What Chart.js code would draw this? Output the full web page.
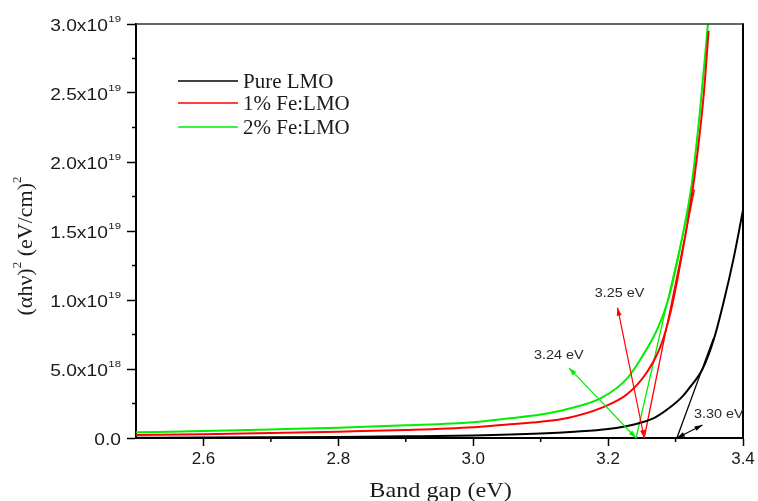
<!DOCTYPE html>
<html>
<head>
<meta charset="utf-8">
<script src="https://cdn.jsdelivr.net/npm/chart.js@4.4.1/dist/chart.umd.min.js"></script>
<style>
html,body{margin:0;padding:0;background:#fff;}
#wrap{width:758px;height:501px;position:relative;}
</style>
</head>
<body>
<div id="wrap"><canvas id="c" width="758" height="501"></canvas></div>
<script>
// ---------- data (y values in units of 1e19 (eV/cm)^2) ----------
const seriesLabels = ['Pure LMO', '1% Fe:LMO', '2% Fe:LMO'];

const pureEV  = [2.50, 2.60, 2.70, 2.80, 2.90, 3.00, 3.10, 3.15, 3.20, 3.24, 3.27, 3.29, 3.31, 3.32, 3.34, 3.357, 3.372, 3.386, 3.40];
const pureVal = [0.002, 0.003, 0.005, 0.008, 0.012, 0.018, 0.032, 0.045, 0.065, 0.10, 0.15, 0.215, 0.30, 0.36, 0.50, 0.72, 1.00, 1.30, 1.65];

const fe1EV  = [2.50, 2.60, 2.70, 2.80, 2.90, 3.00, 3.055, 3.10, 3.14, 3.19, 3.229, 3.259, 3.279, 3.293, 3.305, 3.323, 3.333, 3.342, 3.349];
const fe1Val = [0.022, 0.028, 0.036, 0.046, 0.058, 0.078, 0.100, 0.118, 0.145, 0.218, 0.32, 0.487, 0.68, 0.92, 1.21, 1.72, 2.085, 2.50, 2.95];

const fe2EV  = [2.50, 2.60, 2.70, 2.80, 2.90, 3.00, 3.055, 3.10, 3.14, 3.19, 3.229, 3.253, 3.274, 3.289, 3.300, 3.311, 3.324, 3.336, 3.348];
const fe2Val = [0.041, 0.050, 0.062, 0.075, 0.092, 0.115, 0.143, 0.170, 0.210, 0.290, 0.436, 0.61, 0.80, 1.00, 1.22, 1.48, 1.84, 2.36, 3.00];

// linear extrapolation (tangent) lines: [x, y] end points
const pureTanEV  = [3.302, 3.356];
const pureTanVal = [0, 0.72];
const fe1TanEV   = [3.2535, 3.328];
const fe1TanVal  = [0, 1.80];
const fe2TanEV   = [3.2415, 3.326];
const fe2TanVal  = [0, 1.80];

// axis ticks
const xMajorTicks = [2.6, 2.8, 3.0, 3.2, 3.4];
const xMinorTicks = [2.7, 2.9, 3.1, 3.3];
const yMajorTicks = [0, 0.5, 1.0, 1.5, 2.0, 2.5, 3.0];
const yMinorTicks = [0.25, 0.75, 1.25, 1.75, 2.25, 2.75];
const yTickMantissa = ['0.0', '5.0x10', '1.0x10', '1.5x10', '2.0x10', '2.5x10', '3.0x10'];
const yTickExponent = ['', '18', '19', '19', '19', '19', '19'];

// band-gap annotations
const gapLabels = ['3.25 eV', '3.24 eV', '3.30 eV'];
const gapValues = [3.2535, 3.2415, 3.302];

// ---------- styling / layout ----------
const seriesColors = ['#000000', '#ff0000', '#00ee00'];
const annotations = [
  {text: gapLabels[0], tx: 3.217, ty: 1.046, x1: gapValues[0], y1: 0, x2: 3.214, y2: 0.944, color: '#ff0000'},
  {text: gapLabels[1], tx: 3.127, ty: 0.596, x1: gapValues[1], y1: 0, x2: 3.142, y2: 0.508, color: '#00ee00'},
  {text: gapLabels[2], tx: 3.364, ty: 0.167, x1: gapValues[2], y1: 0, x2: 3.340, y2: 0.094, color: '#000000'}
];

function pts(xs, ys){ return xs.map((x,i)=>({x:x, y:ys[i]})); }

function sText(ctx, text, x, y, sx, align){
  ctx.save();
  ctx.translate(x, y);
  ctx.scale(sx, 1);
  ctx.textAlign = align || 'left';
  ctx.fillText(text, 0, 0);
  ctx.restore();
}
function arrowHead(ctx, xa, ya, xb, yb, len, half){
  const a = Math.atan2(yb-ya, xb-xa);
  ctx.beginPath();
  ctx.moveTo(xb, yb);
  ctx.lineTo(xb - len*Math.cos(a) + half*Math.sin(a), yb - len*Math.sin(a) - half*Math.cos(a));
  ctx.lineTo(xb - len*Math.cos(a) - half*Math.sin(a), yb - len*Math.sin(a) + half*Math.cos(a));
  ctx.closePath();
  ctx.fill();
}

const decor = {
  id: 'decor',
  afterDraw(chart){
    const ctx = chart.ctx, ca = chart.chartArea;
    const xs = chart.scales.x, ys = chart.scales.y;
    ctx.save();
    // frame top & right
    ctx.strokeStyle = '#333'; ctx.lineWidth = 1.5;
    ctx.beginPath(); ctx.moveTo(ca.left, ca.top); ctx.lineTo(ca.right, ca.top); ctx.stroke();
    ctx.strokeStyle = '#000'; ctx.lineWidth = 2;
    ctx.beginPath(); ctx.moveTo(ca.right, ca.top-0.75); ctx.lineTo(ca.right, ca.bottom); ctx.stroke();
    // minor ticks
    ctx.lineWidth = 1.5; ctx.strokeStyle = '#000';
    xMinorTicks.forEach(v=>{ const p = xs.getPixelForValue(v); ctx.beginPath(); ctx.moveTo(p, ca.bottom); ctx.lineTo(p, ca.bottom+4); ctx.stroke(); });
    yMinorTicks.forEach(v=>{ const p = ys.getPixelForValue(v); ctx.beginPath(); ctx.moveTo(ca.left-4, p); ctx.lineTo(ca.left, p); ctx.stroke(); });
    // y tick labels with superscripts
    ctx.fillStyle = '#1a1a1a'; ctx.textBaseline = 'alphabetic';
    const right = 121, sxT = 1.2;
    yMajorTicks.forEach((v,i)=>{
      const p = ys.getPixelForValue(v);
      ctx.font = '9.5px "Liberation Sans", Arial, sans-serif';
      const ws = yTickExponent[i] ? ctx.measureText(yTickExponent[i]).width*sxT + 0.5 : 0;
      if (yTickExponent[i]) sText(ctx, yTickExponent[i], right - ws + 0.5, p - 2.5, sxT, 'left');
      ctx.font = '16px "Liberation Sans", Arial, sans-serif';
      sText(ctx, yTickMantissa[i], right - ws, p + 6.5, sxT, 'right');
    });
    // x title
    ctx.fillStyle = '#1a1a1a';
    ctx.font = '22px "Liberation Serif", "Times New Roman", serif';
    sText(ctx, 'Band gap (eV)', (ca.left+ca.right)/2 + 1, 497, 1.1, 'center');
    // y title (rotated, with superscripts)
    const segs = [{t:'(\u03b1h\u03bd)', s:false}, {t:'2', s:true}, {t:' (eV/cm)', s:false}, {t:'2', s:true}];
    const fMain = '22px "Liberation Serif", "Times New Roman", serif', fSup = '13px "Liberation Serif", "Times New Roman", serif';
    let total = 0;
    segs.forEach(sg=>{ ctx.font = sg.s ? fSup : fMain; sg.w = ctx.measureText(sg.t).width; total += sg.w; });
    ctx.save();
    ctx.translate(32, 246);
    ctx.rotate(-Math.PI/2);
    ctx.textAlign = 'left';
    let cx = -total/2;
    segs.forEach(sg=>{ ctx.font = sg.s ? fSup : fMain; ctx.fillText(sg.t, cx, sg.s ? -11 : 0); cx += sg.w; });
    ctx.restore();
    // legend
    ctx.font = '21px "Liberation Serif", "Times New Roman", serif';
    ctx.textBaseline = 'middle';
    const legY = [81, 103, 127];
    chart.data.datasets.slice(0,3).forEach((ds,i)=>{
      ctx.strokeStyle = ds.borderColor; ctx.lineWidth = 1.5;
      ctx.beginPath(); ctx.moveTo(178, legY[i]); ctx.lineTo(238, legY[i]); ctx.stroke();
      ctx.fillStyle = '#1a1a1a';
      ctx.fillText(ds.label, 243, legY[i] + 1);
    });
    // annotations: double-headed arrows + labels
    ctx.textBaseline = 'middle';
    annotations.forEach(a=>{
      const x1 = xs.getPixelForValue(a.x1), y1 = ys.getPixelForValue(a.y1);
      const x2 = xs.getPixelForValue(a.x2), y2 = ys.getPixelForValue(a.y2);
      ctx.strokeStyle = a.color; ctx.fillStyle = a.color; ctx.lineWidth = 1.2;
      ctx.beginPath(); ctx.moveTo(x1, y1); ctx.lineTo(x2, y2); ctx.stroke();
      arrowHead(ctx, x2, y2, x1, y1, 8, 2.5);
      arrowHead(ctx, x1, y1, x2, y2, 8, 2.5);
      ctx.fillStyle = '#2a2a2a';
      ctx.font = '12px "Liberation Sans", Arial, sans-serif';
      sText(ctx, a.text, xs.getPixelForValue(a.tx), ys.getPixelForValue(a.ty), 1.2, 'center');
    });
    ctx.restore();
  }
};

const curve = (label, xs, ys, color) => ({
  label: label, data: pts(xs, ys), showLine: true, borderColor: color, backgroundColor: color,
  borderWidth: 2, pointRadius: 0, cubicInterpolationMode: 'monotone', fill: false
});
const tangent = (xs, ys, color) => ({
  label: '', data: pts(xs, ys), showLine: true, borderColor: color, backgroundColor: color,
  borderWidth: 1.3, pointRadius: 0, tension: 0, fill: false
});

new Chart(document.getElementById('c'), {
  type: 'scatter',
  data: {
    datasets: [
      curve(seriesLabels[0], pureEV, pureVal, seriesColors[0]),
      curve(seriesLabels[1], fe1EV, fe1Val, seriesColors[1]),
      curve(seriesLabels[2], fe2EV, fe2Val, seriesColors[2]),
      tangent(pureTanEV, pureTanVal, seriesColors[0]),
      tangent(fe1TanEV, fe1TanVal, seriesColors[1]),
      tangent(fe2TanEV, fe2TanVal, seriesColors[2])
    ]
  },
  options: {
    responsive: false, animation: false, devicePixelRatio: 1,
    layout: {padding: {top: 24, right: 15, left: 0, bottom: 0}},
    plugins: {legend: {display: false}, tooltip: {enabled: false}},
    scales: {
      x: {
        type: 'linear', min: 2.5, max: 3.4,
        afterBuildTicks: s => { s.ticks = xMajorTicks.map(v=>({value: v})); },
        afterFit: s => { s.height = 63; },
        grid: {drawOnChartArea: false, drawTicks: true, tickLength: 8, tickColor: '#000', tickWidth: 1.5},
        border: {display: true, color: '#000', width: 2},
        ticks: {font: {family: '"Liberation Sans", Arial, sans-serif', size: 17}, color: '#1a1a1a', padding: 3,
                maxRotation: 0, autoSkip: false, callback: v => Number(v).toFixed(1)}
      },
      y: {
        type: 'linear', min: 0, max: 3.0,
        afterBuildTicks: s => { s.ticks = yMajorTicks.map(v=>({value: v})); },
        afterFit: s => { s.width = 136; },
        grid: {drawOnChartArea: false, drawTicks: true, tickLength: 9, tickColor: '#000', tickWidth: 1.5},
        border: {display: true, color: '#000', width: 2},
        ticks: {display: false}
      }
    }
  },
  plugins: [decor]
});
</script>
</body>
</html>
